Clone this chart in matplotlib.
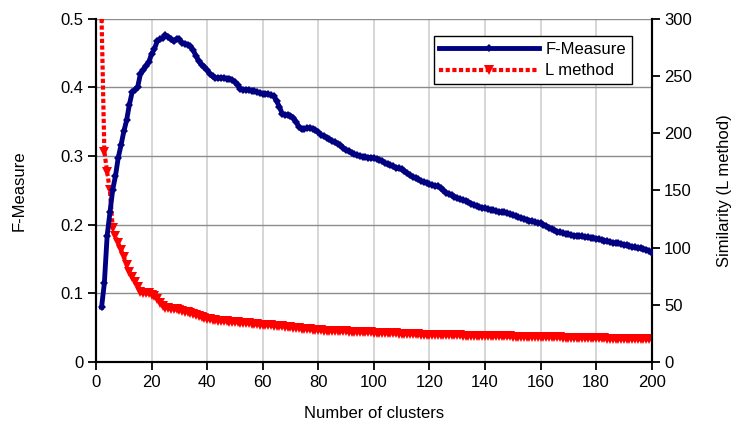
import matplotlib.pyplot as plt

plt.rcParams['font.family'] = ['Liberation Sans', 'DejaVu Sans']

# number of clusters 2..200
clusters = list(range(2, 201))

f_measure = [
    0.080, 0.115, 0.184, 0.218, 0.251, 0.271, 0.298, 0.316, 0.336, 0.352,
    0.375, 0.393, 0.397, 0.401, 0.420, 0.425, 0.432, 0.437, 0.449, 0.456,
    0.467, 0.470, 0.472, 0.476, 0.474, 0.470, 0.467, 0.471, 0.470, 0.465,
    0.464, 0.462, 0.460, 0.454, 0.446, 0.438, 0.433, 0.430, 0.425, 0.420,
    0.416, 0.414, 0.414, 0.414, 0.414, 0.413, 0.413, 0.411, 0.408, 0.403,
    0.398, 0.397, 0.397, 0.396, 0.395, 0.395, 0.393, 0.392, 0.391, 0.391,
    0.390, 0.389, 0.387, 0.380, 0.372, 0.362, 0.360, 0.360, 0.359, 0.356,
    0.350, 0.343, 0.339, 0.340, 0.341, 0.341, 0.340, 0.338, 0.335, 0.331,
    0.329, 0.327, 0.325, 0.322, 0.320, 0.318, 0.316, 0.312, 0.309, 0.307,
    0.305, 0.303, 0.301, 0.300, 0.299, 0.299, 0.298, 0.298, 0.297, 0.296,
    0.295, 0.293, 0.290, 0.288, 0.287, 0.285, 0.283, 0.282, 0.281, 0.278,
    0.275, 0.272, 0.270, 0.268, 0.266, 0.264, 0.262, 0.261, 0.259, 0.258,
    0.257, 0.256, 0.254, 0.250, 0.247, 0.245, 0.243, 0.241, 0.239, 0.237,
    0.236, 0.235, 0.233, 0.231, 0.229, 0.227, 0.226, 0.225, 0.224, 0.223,
    0.222, 0.221, 0.220, 0.219, 0.218, 0.218, 0.217, 0.216, 0.214, 0.213,
    0.211, 0.210, 0.209, 0.207, 0.206, 0.205, 0.204, 0.203, 0.202, 0.200,
    0.198, 0.196, 0.194, 0.192, 0.190, 0.189, 0.188, 0.187, 0.186, 0.185,
    0.184, 0.184, 0.183, 0.183, 0.182, 0.182, 0.181, 0.181, 0.180, 0.179,
    0.178, 0.177, 0.176, 0.175, 0.174, 0.173, 0.173, 0.172, 0.171, 0.170,
    0.169, 0.168, 0.167, 0.166, 0.166, 0.165, 0.164, 0.162, 0.159,
]

l_method = [
    300, 184, 166, 150, 117, 110, 104, 98, 92, 85,
    79, 74, 70, 66, 61, 60, 60, 60, 59, 58,
    55, 52, 49, 47, 47, 46.5, 46, 46, 45.5, 45,
    44, 43.5, 43, 42, 41, 40, 39, 38.5, 38, 37.5,
    37, 36.5, 36.3, 36, 35.8, 35.5, 35.3, 35, 34.8, 34.6,
    34.4, 34.2, 34, 33.8, 33.5, 33.2, 33, 32.8, 32.6, 32.4,
    32.2, 32, 31.8, 31.6, 31.4, 31.2, 31, 30.7, 30.4, 30.1,
    29.8, 29.5, 29.2, 29, 28.8, 28.6, 28.4, 28.2, 28, 27.8,
    27.6, 27.5, 27.4, 27.3, 27.2, 27.1, 27, 26.9, 26.8, 26.7,
    26.6, 26.5, 26.4, 26.3, 26.2, 26.1, 26, 25.9, 25.8, 25.7,
    25.6, 25.5, 25.4, 25.3, 25.2, 25.1, 25, 24.9, 24.8, 24.7,
    24.6, 24.5, 24.4, 24.3, 24.2, 24.1, 24, 23.9, 23.8, 23.8,
    23.7, 23.7, 23.6, 23.6, 23.5, 23.5, 23.4, 23.4, 23.3, 23.3,
    23.2, 23.2, 23.1, 23.1, 23, 23, 22.9, 22.9, 22.8, 22.8,
    22.7, 22.7, 22.6, 22.6, 22.5, 22.5, 22.4, 22.4, 22.3, 22.3,
    22.2, 22.2, 22.1, 22.1, 22, 22, 21.9, 21.9, 21.8, 21.8,
    21.7, 21.7, 21.6, 21.6, 21.5, 21.5, 21.4, 21.4, 21.3, 21.3,
    21.2, 21.2, 21.1, 21.1, 21, 21, 20.9, 20.9, 20.8, 20.8,
    20.7, 20.7, 20.6, 20.6, 20.5, 20.5, 20.4, 20.4, 20.3, 20.3,
    20.2, 20.2, 20.1, 20.1, 20, 20, 19.9, 19.9, 19.8,
]

fig = plt.figure(figsize=(7.33, 4.28), dpi=100)
ax = fig.add_axes([0.131, 0.154, 0.758, 0.802])
ax2 = ax.twinx()

ax.set_xlim(0, 200)
ax.set_ylim(0, 0.5)
ax2.set_ylim(0, 300)
ax.set_xticks(range(0, 201, 20))
ax.set_yticks([0, 0.1, 0.2, 0.3, 0.4, 0.5])
ax.set_yticklabels(['0', '0.1', '0.2', '0.3', '0.4', '0.5'])
ax2.set_yticks(range(0, 301, 50))

# grid lives on the lower axes
ax.yaxis.grid(True, color='#8c8c8c', lw=1)
ax.xaxis.grid(True, color='#cfcfcf', lw=1.2)
ax.set_axisbelow(True)

# L method on right scale, F-Measure on left scale but drawn on top
ax2.plot(clusters, l_method, color='red', ls=(0, (1, 0.6)), lw=3,
         marker='v', ms=7, mew=0, label='L method', zorder=2)
ax2.plot(clusters, f_measure, color='#000080', lw=3.5, marker='D', ms=4.5,
         mew=0, label='F-Measure', transform=ax.transData, zorder=3)
ax2.set_ylim(0, 300)

for a in (ax, ax2):
    a.spines['top'].set_visible(False)
    a.tick_params(direction='out', length=6, width=1.3, labelsize=12,
                  color='black', pad=3)
    for s in ('left', 'bottom', 'right'):
        a.spines[s].set_linewidth(1.5)

ax.set_xlabel('Number of clusters', fontsize=12, labelpad=12)
ax.set_ylabel('F-Measure', fontsize=12, labelpad=24)
ax2.set_ylabel('Similarity (L method)', fontsize=12, labelpad=18)

h, l = ax2.get_legend_handles_labels()
leg = ax2.legend(h[::-1], l[::-1], loc='upper right', bbox_to_anchor=(0.964, 0.95),
                 fancybox=False, edgecolor='black', framealpha=1, fontsize=12,
                 handlelength=6, borderpad=0.35, labelspacing=0.4,
                 handletextpad=0.35, borderaxespad=0)
leg.get_frame().set_linewidth(1)

fig.savefig('out.png', dpi=100)
